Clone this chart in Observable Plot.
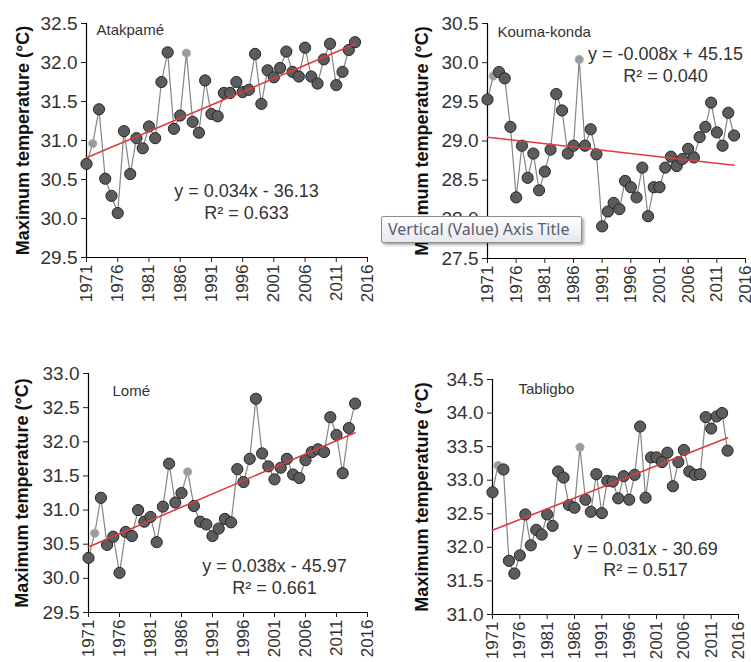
<!DOCTYPE html>
<html>
<head>
<meta charset="utf-8">
<script src="https://cdn.jsdelivr.net/npm/d3@7"></script>
<script src="https://cdn.jsdelivr.net/npm/@observablehq/plot@0.6"></script>
<style>
  html, body { margin: 0; padding: 0; background: #fff; }
  body { width: 751px; height: 662px; position: relative; overflow: hidden; font-family: "Liberation Sans", Arial, sans-serif; }
  .panel { position: absolute; }
  .panel svg { overflow: visible; }
  .tip {
    position: absolute; left: 381px; top: 216px; width: 201px; height: 27px;
    box-sizing: border-box; border: 1px solid #8c8c8c; border-radius: 2px;
    background: linear-gradient(#ffffff, #e6e7ef);
    box-shadow: 2px 2px 3px rgba(0,0,0,0.35);
    font-family: "Noto Sans", "Open Sans", sans-serif; font-size: 16px; color: #5a5e6e;
    line-height: 25px; padding-left: 6px; white-space: nowrap;
  }
</style>
</head>
<body>
<div id="p1" class="panel" style="left:0px;top:0px"></div>
<div id="p2" class="panel" style="left:380px;top:0px"></div>
<div id="p3" class="panel" style="left:0px;top:330px"></div>
<div id="p4" class="panel" style="left:380px;top:330px"></div>
<div class="tip">Vertical (Value) Axis Title</div>
<script>
// ---------- data ----------
const years = [1971,1972,1973,1974,1975,1976,1977,1978,1979,1980,
               1981,1982,1983,1984,1985,1986,1987,1988,1989,1990,
               1991,1992,1993,1994,1995,1996,1997,1998,1999,2000,
               2001,2002,2003,2004,2005,2006,2007,2008,2009,2010,
               2011,2012,2013,2014];
const estimatedYears = [1972, 1987];

const atakpame = [30.70,30.96,31.40,30.51,30.29,30.07,31.12,30.57,31.03,30.90,
                  31.18,31.03,31.75,32.13,31.15,31.32,32.12,31.24,31.10,31.77,
                  31.34,31.31,31.61,31.61,31.75,31.62,31.65,32.11,31.47,31.90,
                  31.81,31.93,32.14,31.88,31.82,32.19,31.82,31.73,32.04,32.24,
                  31.71,31.88,32.16,32.26];
const koumaKonda = [29.53,29.83,29.88,29.80,29.18,28.28,28.94,28.53,28.84,28.37,
                    28.61,28.89,29.60,29.39,28.84,28.94,30.04,28.94,29.15,28.83,
                    27.91,28.10,28.21,28.13,28.49,28.41,28.28,28.66,28.04,28.41,
                    28.41,28.66,28.80,28.68,28.77,28.90,28.79,29.05,29.18,29.49,
                    29.11,28.94,29.36,29.07];
const lome = [30.30,30.66,31.18,30.49,30.61,30.08,30.68,30.62,31.00,30.83,
              30.90,30.53,31.05,31.68,31.11,31.25,31.56,31.06,30.83,30.79,
              30.62,30.73,30.87,30.82,31.60,31.41,31.75,32.63,31.83,31.64,
              31.45,31.62,31.75,31.52,31.47,31.73,31.85,31.89,31.85,32.36,
              32.10,31.54,32.20,32.56];
const tabligbo = [32.82,33.22,33.16,31.80,31.61,31.88,32.49,32.03,32.26,32.19,
                  32.49,32.32,33.13,33.04,32.63,32.59,33.49,32.71,32.53,33.09,
                  32.51,32.99,32.98,32.73,33.06,32.71,33.08,33.80,32.74,33.34,
                  33.34,33.27,33.41,32.91,33.27,33.45,33.13,33.08,33.09,33.94,
                  33.77,33.95,34.00,33.44];

const stationNames = ["Atakpamé", "Kouma-konda", "Lomé", "Tabligbo"];
const equations = ["y = 0.034x - 36.13", "y = -0.008x + 45.15", "y = 0.038x - 45.97", "y = 0.031x - 30.69"];
const rSquared = ["R² = 0.633", "R² = 0.040", "R² = 0.661", "R² = 0.517"];
const xTicks = [1971,1976,1981,1986,1991,1996,2001,2006,2011,2016];
const yTicksAtakpame = [29.5,30.0,30.5,31.0,31.5,32.0,32.5];
const yTicksKouma = [27.5,28.0,28.5,29.0,29.5,30.0,30.5];
const yTicksLome = [29.5,30.0,30.5,31.0,31.5,32.0,32.5,33.0];
const yTicksTabligbo = [31.0,31.5,32.0,32.5,33.0,33.5,34.0,34.5];
const yAxisTitle = "Maximum temperature (°C)";

// ---------- layout (positions/styles only) ----------
const layout = [
  {el:"#p1", values: atakpame, yTicks: yTicksAtakpame, w:375, h:320, ml:86, mr:8, mt:23, mb:63,
   nameDx:10, nameDy:1, eqCx:160, eqDy:168, r2Dy:190, titleX:23},
  {el:"#p2", values: koumaKonda, yTicks: yTicksKouma, w:371, h:320, ml:107, mr:6, mt:23, mb:62,
   nameDx:10, nameDy:3, eqCx:178, eqDy:31, r2Dy:53, titleX:42},
  {el:"#p3", values: lome, yTicks: yTicksLome, w:375, h:332, ml:88, mr:8, mt:43, mb:50,
   nameDx:24, nameDy:12, eqCx:186, eqDy:193, r2Dy:215, titleX:22},
  {el:"#p4", values: tabligbo, yTicks: yTicksTabligbo, w:371, h:332, ml:112, mr:13, mt:49, mb:48,
   nameDx:26, nameDy:4, eqCx:153, eqDy:170, r2Dy:191, titleX:42}
];

layout.forEach((cfg, k) => {
  const data = years.map((year, i) => ({year, value: cfg.values[i], est: estimatedYears.includes(year)}));
  const yDomain = [cfg.yTicks[0], cfg.yTicks[cfg.yTicks.length - 1]];
  const chart = Plot.plot({
    width: cfg.w, height: cfg.h,
    marginLeft: cfg.ml, marginRight: cfg.mr, marginTop: cfg.mt, marginBottom: cfg.mb,
    style: {fontFamily: '"Liberation Sans", Arial, sans-serif', fontSize: "18px", color: "#1e1e1e", background: "transparent", overflow: "visible"},
    x: {domain: [1971, 2016]},
    y: {domain: yDomain},
    marks: [
      Plot.axisY({ticks: cfg.yTicks, tickFormat: d3.format(".1f"), tickSize: 5, tickPadding: 4, fontSize: 19, label: null, fill: "#333"}),
      Plot.axisX({ticks: xTicks, tickFormat: d => String(d), tickRotate: -90, tickSize: 5, tickPadding: 2, fontSize: 17, label: null, fill: "#333"}),
      Plot.ruleX([1971], {stroke: "#000", strokeWidth: 1.2}),
      Plot.ruleY([yDomain[0]], {stroke: "#000", strokeWidth: 1.2}),
      Plot.line(data, {x: "year", y: "value", stroke: "#858585", strokeWidth: 1.2}),
      Plot.dot(data.filter(d => d.est), {x: "year", y: "value", r: 4.2, fill: "#9c9c9c", stroke: "#b0b0b0", strokeWidth: 0.8}),
      Plot.dot(data.filter(d => !d.est), {x: "year", y: "value", r: 5.6, fill: "#5c5c5c", stroke: "#262626", strokeWidth: 1}),
      Plot.linearRegressionY(data, {x: "year", y: "value", stroke: "#e03a3c", strokeWidth: 1.6, ci: 0}),
      Plot.text([stationNames[k]], {text: d => d, frameAnchor: "top-left", dx: cfg.nameDx, dy: cfg.nameDy, textAnchor: "start", lineAnchor: "top", fontSize: 15, fill: "#333"}),
      Plot.text([equations[k]], {text: d => d, frameAnchor: "top-left", dx: cfg.eqCx, dy: cfg.eqDy, textAnchor: "middle", lineAnchor: "middle", fontSize: 18, fill: "#333"}),
      Plot.text([rSquared[k]], {text: d => d, frameAnchor: "top-left", dx: cfg.eqCx, dy: cfg.r2Dy, textAnchor: "middle", lineAnchor: "middle", fontSize: 18, fill: "#333"}),
      Plot.text([yAxisTitle], {text: d => d, frameAnchor: "left", dx: cfg.titleX - cfg.ml, rotate: -90, textAnchor: "middle", lineAnchor: "middle", fontSize: 18, fontWeight: "bold", fill: "#111"})
    ]
  });
  document.querySelector(cfg.el).appendChild(chart);
});
</script>
</body>
</html>
